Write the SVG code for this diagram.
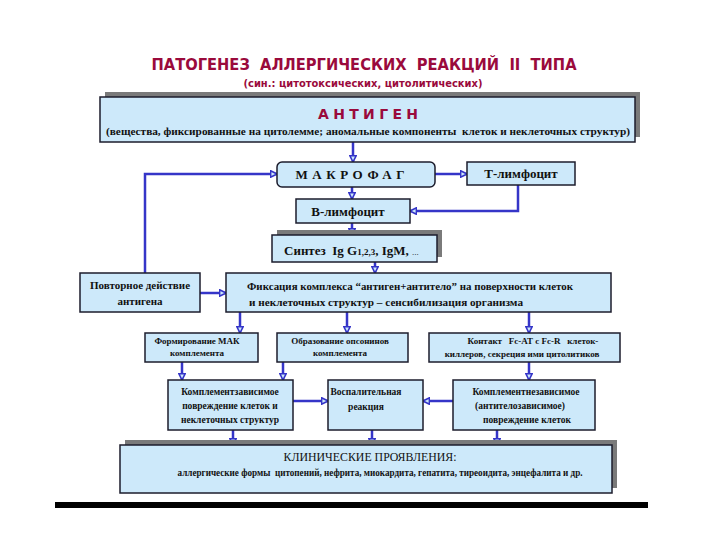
<svg xmlns="http://www.w3.org/2000/svg" width="720" height="540" viewBox="0 0 720 540">
<style>
.box{fill:#cde9fa;stroke:#1c1c2c;stroke-width:1.5}
.sh{fill:#7a7a7a}
text.t{font-family:'Liberation Serif','Times New Roman',Times,serif;font-weight:bold;fill:#111}
text.red{font-family:'DejaVu Sans','Liberation Sans',Arial,sans-serif;font-weight:bold;fill:#9a0a3c}
.c{stroke:#3535c8;stroke-width:2.5;fill:none;marker-end:url(#ah)}
</style>
<defs>
<marker id="ah" viewBox="0 0 10 10" refX="9" refY="5" markerWidth="8" markerHeight="8" markerUnits="userSpaceOnUse" orient="auto">
<path d="M1,1 L9,5 L1,9 z" fill="#cde9fa" stroke="#3535c8" stroke-width="2"/>
</marker>
</defs>
<rect width="720" height="540" fill="#ffffff"/>

<g id="title">
<text class="red" x="364" y="70" font-size="15" text-anchor="middle" textLength="425" lengthAdjust="spacingAndGlyphs" xml:space="preserve">ПАТОГЕНЕЗ  АЛЛЕРГИЧЕСКИХ  РЕАКЦИЙ  II  ТИПА</text>
<text class="red" x="363" y="87" font-size="11" text-anchor="middle" textLength="239" lengthAdjust="spacingAndGlyphs">(син.: цитотоксических, цитолитических)</text>
</g>

<g id="connectors">
<path class="c" d="M353,142 V162"/>
<path class="c" d="M435,174 H467"/>
<path class="c" d="M352,187 V199"/>
<path class="c" d="M518,185 V211 H410"/>
<path class="c" d="M352,223 V235"/>
<path class="c" d="M375,262 V273"/>
<path class="c" d="M145,273 V174 H277"/>
<path class="c" d="M200,293 H226"/>
<path class="c" d="M240,312 V333"/>
<path class="c" d="M347,312 V333"/>
<path class="c" d="M529,312 V333"/>
<path class="c" d="M182,362 V380"/>
<path class="c" d="M283,362 V380"/>
<path class="c" d="M529,362 V380"/>
<path class="c" d="M293,401 H328"/>
<path class="c" d="M453,401 H423"/>
<path class="c" d="M233,430 V445"/>
<path class="c" d="M372,430 V445"/>
<path class="c" d="M497,430 V445"/>
</g>

<g id="antigen">
<rect class="sh" x="105" y="92" width="535" height="45"/>
<rect class="box" x="100" y="97" width="535" height="45"/>
<text class="red" x="368" y="119" font-size="14" text-anchor="middle" textLength="100" lengthAdjust="spacing">АНТИГЕН</text>
<text class="t" x="368" y="135" font-size="11" text-anchor="middle" textLength="524" lengthAdjust="spacingAndGlyphs" xml:space="preserve">(вещества, фиксированные на цитолемме; аномальные компоненты  клеток и неклеточных структур)</text>
</g>

<g id="macrophage">
<rect class="box" x="277" y="162" width="158" height="25" rx="5"/>
<text class="t" x="350" y="179" font-size="13" text-anchor="middle" textLength="109" lengthAdjust="spacing">МАКРОФАГ</text>
</g>

<g id="t-lymph">
<rect class="box" x="467" y="162" width="108" height="23"/>
<text class="t" x="521" y="178" font-size="13" text-anchor="middle">Т-лимфоцит</text>
</g>

<g id="b-lymph">
<rect class="box" x="296" y="199" width="114" height="24"/>
<text class="t" x="348" y="216" font-size="13" text-anchor="middle">В-лимфоцит</text>
</g>

<g id="synthesis">
<rect class="sh" x="277" y="230" width="165" height="27"/>
<rect class="box" x="272" y="235" width="165" height="27"/>
<text class="t" x="284" y="255" font-size="13" xml:space="preserve">Синтез  Ig G<tspan font-size="9">1,2,3</tspan>, IgM, <tspan font-size="9" font-weight="normal">...</tspan></text>
</g>

<g id="repeat">
<rect class="box" x="80" y="273" width="120" height="39"/>
<text class="t" x="140" y="289" font-size="11" text-anchor="middle">Повторное действие</text>
<text class="t" x="140" y="305" font-size="11" text-anchor="middle">антигена</text>
</g>

<g id="fixation">
<rect class="box" x="226" y="273" width="385" height="39"/>
<text class="t" x="247" y="290" font-size="11" textLength="326" lengthAdjust="spacingAndGlyphs">Фиксация комплекса “антиген+антитело” на поверхности клеток</text>
<text class="t" x="249" y="306" font-size="11" textLength="274" lengthAdjust="spacingAndGlyphs">и неклеточных структур – сенсибилизация организма</text>
</g>

<g id="mac">
<rect class="box" x="145" y="333" width="113" height="29"/>
<text class="t" x="197" y="344" font-size="9" text-anchor="middle">Формирование МАК</text>
<text class="t" x="197" y="356" font-size="9" text-anchor="middle">комплемента</text>
</g>

<g id="opsonins">
<rect class="box" x="277" y="333" width="131" height="29"/>
<text class="t" x="340" y="344" font-size="9" text-anchor="middle">Образование опсонинов</text>
<text class="t" x="340" y="356" font-size="9" text-anchor="middle">комплемента</text>
</g>

<g id="contact">
<rect class="box" x="429" y="333" width="191" height="29"/>
<text class="t" x="533" y="344" font-size="9" text-anchor="middle" xml:space="preserve">Контакт   Fc-AT с Fc-R   клеток-</text>
<text class="t" x="522" y="357" font-size="9" text-anchor="middle">киллеров, секреция ими цитолитиков</text>
</g>

<g id="compl-dep">
<rect class="box" x="168" y="380" width="125" height="50"/>
<text class="t" x="230" y="395" font-size="9.5" text-anchor="middle">Комплементзависимое</text>
<text class="t" x="230" y="409" font-size="9.5" text-anchor="middle">повреждение клеток и</text>
<text class="t" x="230" y="423" font-size="9.5" text-anchor="middle">неклеточных структур</text>
</g>

<g id="inflammation">
<rect class="box" x="328" y="380" width="95" height="50"/>
<text class="t" x="366" y="395" font-size="9.5" text-anchor="middle">Воспалительная</text>
<text class="t" x="366" y="410" font-size="9.5" text-anchor="middle">реакция</text>
</g>

<g id="compl-indep">
<rect class="box" x="453" y="380" width="142" height="50"/>
<text class="t" x="526" y="395" font-size="9.5" text-anchor="middle">Комплементнезависимое</text>
<text class="t" x="520" y="409" font-size="9.5" text-anchor="middle">(антителозависимое)</text>
<text class="t" x="527" y="423" font-size="9.5" text-anchor="middle">повреждение клеток</text>
</g>

<g id="clinical">
<rect class="sh" x="125" y="440" width="492" height="48"/>
<rect class="box" x="120" y="445" width="492" height="48"/>
<text x="370" y="461" font-family="'Liberation Serif','Times New Roman',serif" font-size="13" fill="#111" text-anchor="middle" textLength="173" lengthAdjust="spacingAndGlyphs">КЛИНИЧЕСКИЕ ПРОЯВЛЕНИЯ:</text>
<text class="t" x="380" y="476" font-size="9.5" text-anchor="middle" textLength="405" lengthAdjust="spacingAndGlyphs" xml:space="preserve">аллергические формы  цитопений, нефрита, миокардита, гепатита, тиреоидита, энцефалита и др.</text>
</g>

<rect x="55" y="502" width="593" height="6" fill="#000"/>
</svg>
